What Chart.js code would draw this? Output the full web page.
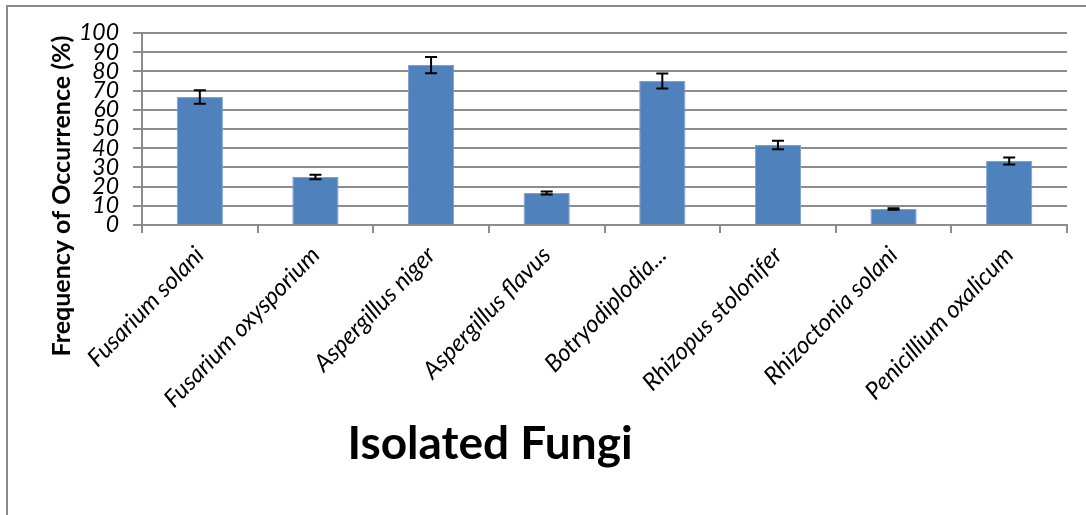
<!DOCTYPE html>
<html>
<head>
<meta charset="utf-8">
<script src="https://cdn.jsdelivr.net/npm/chart.js@4.4.0/dist/chart.umd.min.js"></script>
<style>
  body { margin: 0; background: #fff; }
  #wrap { width: 1086px; height: 515px; }
</style>
</head>
<body>
<div id="wrap"><canvas id="myChart" width="1086" height="515"></canvas></div>
<script>
var categories = [
  "Fusarium solani",
  "Fusarium oxysporium",
  "Aspergillus niger",
  "Aspergillus flavus",
  "Botryodiplodia...",
  "Rhizopus stolonifer",
  "Rhizoctonia solani",
  "Penicillium oxalicum"
];
var frequency = [66.7, 25, 83.3, 16.7, 75, 41.7, 8.3, 33.3];
var errors = [3.5, 1.2, 4.2, 0.8, 3.9, 2.2, 0.4, 1.8];
var yTitle = "Frequency of Occurrence (%)";
var xTitle = "Isolated Fungi";

var gridColor = "#8c8c8c";
var fontFamily = "Lato, 'Open Sans', sans-serif";

// frame, error bars and the two axis titles
var extras = {
  id: "extras",
  beforeDraw: function (chart) {
    var c = chart.ctx;
    c.save();
    c.fillStyle = "#fff";
    c.fillRect(0, 0, chart.width, chart.height);
    c.strokeStyle = "#8a8a8a";
    c.lineWidth = 2;
    c.beginPath();
    c.moveTo(7, chart.height);
    c.lineTo(7, 6);
    c.lineTo(chart.width, 6);
    c.stroke();
    c.restore();
  },
  afterDatasetsDraw: function (chart) {
    var c = chart.ctx;
    var y = chart.scales.y;
    var meta = chart.getDatasetMeta(0);
    c.save();
    c.strokeStyle = "#000";
    c.lineWidth = 2;
    meta.data.forEach(function (bar, i) {
      var top = y.getPixelForValue(frequency[i] + errors[i]);
      var bot = y.getPixelForValue(frequency[i] - errors[i]);
      c.beginPath();
      c.moveTo(bar.x, top); c.lineTo(bar.x, bot);
      c.moveTo(bar.x - 6, top); c.lineTo(bar.x + 6, top);
      c.moveTo(bar.x - 6, bot); c.lineTo(bar.x + 6, bot);
      c.stroke();
    });
    c.restore();
  },
  afterDraw: function (chart) {
    var c = chart.ctx;
    c.save();
    c.fillStyle = "#000";
    c.textAlign = "center";
    c.textBaseline = "middle";
    c.font = "bold 25px " + fontFamily;
    c.translate(62, 196);
    c.rotate(-Math.PI / 2);
    c.fillText(yTitle, 0, 0);
    c.restore();

    c.save();
    c.fillStyle = "#000";
    c.textAlign = "center";
    c.textBaseline = "middle";
    c.font = "bold 46px " + fontFamily;
    c.fillText(xTitle, 490, 444);
    c.restore();
  }
};

var ctx = document.getElementById("myChart").getContext("2d");
var chart = new Chart(ctx, {
  type: "bar",
  data: {
    labels: categories,
    datasets: [
      {
        label: "Frequency",
        data: frequency,
        backgroundColor: "#4f81bd",
        borderColor: "#7ea1d1",
        borderWidth: 1,
        barPercentage: 0.4,
        categoryPercentage: 1.0
      }
    ]
  },
  options: {
    responsive: false,
    animation: false,
    layout: { padding: { left: 0, top: 33, right: 19, bottom: 0 } },
    plugins: {
      legend: { display: false },
      tooltip: { enabled: false }
    },
    scales: {
      x: {
        afterFit: function (scale) { scale.height = 290; },
        grid: {
          offset: true,
          drawOnChartArea: false,
          drawTicks: true,
          tickLength: 8,
          color: gridColor,
          lineWidth: 2
        },
        border: { color: gridColor, width: 2 },
        ticks: {
          color: "#000",
          minRotation: 46,
          maxRotation: 46,
          autoSkip: false,
          padding: 8,
          font: { family: fontFamily, size: 24, style: "italic" }
        }
      },
      y: {
        min: 0,
        max: 100,
        afterFit: function (scale) { scale.width = 142; },
        grid: {
          color: gridColor,
          lineWidth: 2,
          tickLength: 9
        },
        border: { color: gridColor, width: 2 },
        ticks: {
          stepSize: 10,
          autoSkip: false,
          color: "#000",
          padding: 14,
          font: { family: fontFamily, size: 23, style: "italic", lineHeight: 1 }
        }
      }
    }
  },
  plugins: [extras]
});
</script>
</body>
</html>
